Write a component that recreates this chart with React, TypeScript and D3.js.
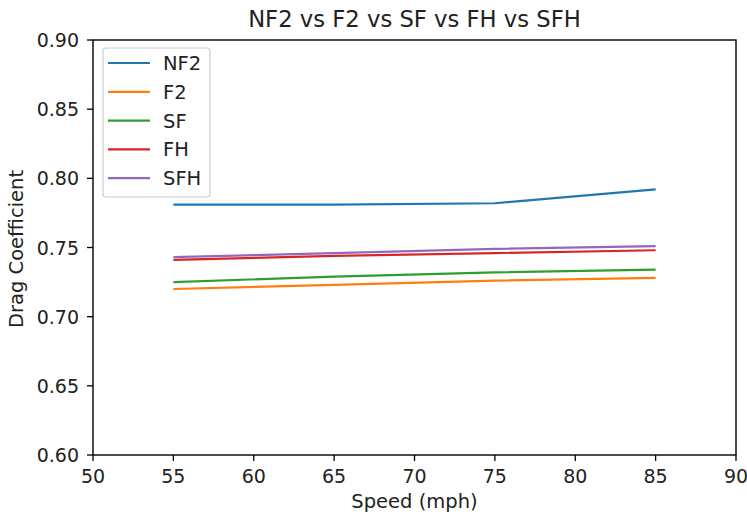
import React from "react";
import * as d3 from "d3";

const speeds = [55, 65, 75, 85];
const seriesNames = ["NF2", "F2", "SF", "FH", "SFH"];
const nf2 = [0.781, 0.781, 0.782, 0.792];
const f2 = [0.72, 0.723, 0.726, 0.728];
const sf = [0.725, 0.729, 0.732, 0.734];
const fh = [0.741, 0.744, 0.746, 0.748];
const sfh = [0.743, 0.746, 0.749, 0.751];
const xTicks = [50, 55, 60, 65, 70, 75, 80, 85, 90];
const yTicks = [0.6, 0.65, 0.7, 0.75, 0.8, 0.85, 0.9];
const colors = ["#1f77b4", "#ff7f0e", "#2ca02c", "#d62728", "#9467bd"];

export default function App() {
  const W = 747, H = 516;
  const left = 93, right = 736, top = 40, bottom = 455;
  const x = d3.scaleLinear().domain([50, 90]).range([left, right]);
  const y = d3.scaleLinear().domain([0.6, 0.9]).range([bottom, top]);
  const all = [nf2, f2, sf, fh, sfh];
  const line = d3.line<number>().x((_, i) => x(speeds[i])).y((d) => y(d));
  const font = "DejaVu Sans, sans-serif";
  return (
    <svg width={W} height={H} style={{ position: "absolute", left: 0, top: 0, background: "#fff" }} fontFamily={font}>
      <rect x={0} y={0} width={W} height={H} fill="#fff" />
      {all.map((s, i) => (
        <path key={i} d={line(s) || ""} fill="none" stroke={colors[i]} strokeWidth={2.2} />
      ))}
      <rect x={left} y={top} width={right - left} height={bottom - top} fill="none" stroke="#000" strokeWidth={1.4} />
      {xTicks.map((t) => (
        <g key={t}>
          <line x1={x(t)} x2={x(t)} y1={bottom} y2={bottom + 6} stroke="#000" strokeWidth={1.3} />
          <text x={x(t)} y={bottom + 28} textAnchor="middle" fontSize={19} fill="#222">{t}</text>
        </g>
      ))}
      {yTicks.map((t) => (
        <g key={t}>
          <line x1={left - 6} x2={left} y1={y(t)} y2={y(t)} stroke="#000" strokeWidth={1.3} />
          <text x={left - 14} y={y(t) + 7} textAnchor="end" fontSize={19} fill="#222">{t.toFixed(2)}</text>
        </g>
      ))}
      <text x={(left + right) / 2} y={27} textAnchor="middle" fontSize={22.7} fill="#222">NF2 vs F2 vs SF vs FH vs SFH</text>
      <text x={(left + right) / 2} y={508} textAnchor="middle" fontSize={19.5} fill="#222">Speed (mph)</text>
      <text transform={`translate(23, 249) rotate(-90)`} textAnchor="middle" fontSize={19.5} fill="#222">Drag Coefficient</text>
      <rect x={103} y={48} width={107} height={149} rx={3} fill="#fff" fillOpacity={0.8} stroke="#ccc" strokeWidth={1.2} />
      {seriesNames.map((n, i) => (
        <g key={n}>
          <line x1={108} x2={150} y1={63 + i * 28.8} y2={63 + i * 28.8} stroke={colors[i]} strokeWidth={2.2} />
          <text x={163} y={70 + i * 28.8} fontSize={19.5} fill="#222">{n}</text>
        </g>
      ))}
    </svg>
  );
}
